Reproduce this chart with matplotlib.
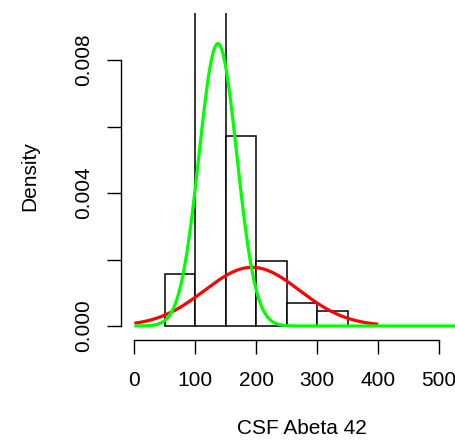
import numpy as np
import matplotlib
matplotlib.use("Agg")
import matplotlib.pyplot as plt

plt.rcParams['font.family'] = ['Liberation Sans', 'DejaVu Sans']

# Histogram (density scale)
bin_edges = [50, 100, 150, 200, 250, 300, 350]
densities = [0.00155, 0.00965, 0.00571, 0.00195, 0.00069, 0.00045]

# Fitted two-component normal mixture (mean, sd, weight)
comp_means = [137, 193]
comp_sds = [31, 78]
comp_weights = [0.66, 0.345]
comp_ranges = [(0, 550), (0, 400)]
comp_colors = ['#00ff00', '#ff0000']

x_ticks = [0, 100, 200, 300, 400, 500]
y_ticks = [0.0, 0.002, 0.004, 0.006, 0.008]
y_ticklabels = ['0.000', '', '0.004', '', '0.008']

fig = plt.figure(figsize=(4.56, 4.42), dpi=100)
ax = fig.add_axes([121/456, 1-340/442, (483-121)/456, (340-13)/442])

lefts = bin_edges[:-1]
widths = np.diff(bin_edges)
ax.bar(lefts, densities, width=widths, align='edge', facecolor='white',
       edgecolor='black', linewidth=1.1, zorder=1)

def normal_pdf(x, m, s):
    return np.exp(-0.5*((x-m)/s)**2)/(s*np.sqrt(2*np.pi))

# draw red first, then green
for i in [1, 0]:
    lo, hi = comp_ranges[i]
    xs = np.linspace(lo, hi, 400)
    ax.plot(xs, comp_weights[i]*normal_pdf(xs, comp_means[i], comp_sds[i]),
            color=comp_colors[i], lw=2.3, zorder=2, solid_capstyle='butt')

ax.set_xlim(-22, 572)
ax.set_ylim(-0.000421, 0.009414)

for s in ['top', 'right']:
    ax.spines[s].set_visible(False)
ax.spines['left'].set_bounds(0, 0.008)
ax.spines['bottom'].set_bounds(0, 500)
ax.spines['left'].set_linewidth(1.0)
ax.spines['bottom'].set_linewidth(1.0)

ax.set_xticks(x_ticks)
ax.set_xticklabels([str(t) for t in x_ticks], fontsize=15)
ax.set_yticks(y_ticks)
ax.set_yticklabels(y_ticklabels, fontsize=15, rotation=90, va='center')
ax.tick_params(axis='both', length=10, width=1.0, direction='out')
ax.tick_params(axis='x', pad=12)
ax.tick_params(axis='y', pad=10)

ax.set_xlabel('CSF Abeta 42', fontsize=15, labelpad=21)
ax.set_ylabel('Density', fontsize=15, labelpad=25)

fig.savefig('out.png', dpi=100)
